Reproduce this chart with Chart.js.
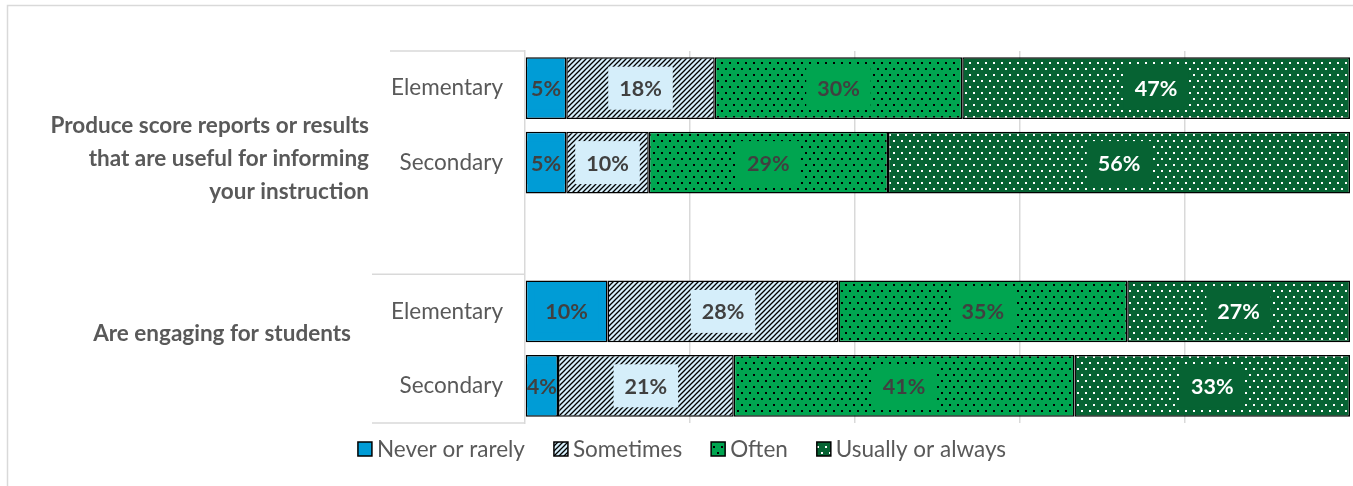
<!DOCTYPE html>
<html>
<head>
<meta charset="utf-8">
<script src="https://cdn.jsdelivr.net/npm/chart.js@4.4.1/dist/chart.umd.min.js"></script>
<style>
body { margin: 0; background: #fff; }
#wrap { width: 1353px; height: 486px; }
</style>
</head>
<body>
<div id="wrap"><canvas id="myChart" width="1353" height="486"></canvas></div>
<script>
// sub-category labels (one empty slot separates the two groups)
const levels = ['Elementary', 'Secondary', '', 'Elementary', 'Secondary'];
const groups = [
    ['Produce score reports or results', 'that are useful for informing', 'your instruction'],
    ['Are engaging for students']
];
const seriesNames = ['Never or rarely', 'Sometimes', 'Often', 'Usually or always'];
const neverRarely = [5, 5, null, 10, 4];
const sometimes = [18, 10, null, 28, 21.3];
const often = [30, 29, null, 35, 41.3];
const usually = [47, 56, null, 27, 33.4];

const FONT = 'Lato';
const GRAY = '#595959';

function hatch(bg) {
    const s = 5;
    const c = document.createElement('canvas');
    c.width = s; c.height = s;
    const g = c.getContext('2d');
    g.fillStyle = bg;
    g.fillRect(0, 0, s, s);
    g.strokeStyle = '#000';
    g.lineWidth = 1.3;
    g.beginPath();
    g.moveTo(0, s); g.lineTo(s, 0);
    g.moveTo(-1, 1); g.lineTo(1, -1);
    g.moveTo(s - 1, s + 1); g.lineTo(s + 1, s - 1);
    g.stroke();
    return g.createPattern(c, 'repeat');
}

function dots(bg, fg) {
    const c = document.createElement('canvas');
    c.width = 8; c.height = 12;
    const g = c.getContext('2d');
    g.fillStyle = bg;
    g.fillRect(0, 0, 8, 12);
    g.fillStyle = fg;
    g.fillRect(1, 2, 2, 2);
    g.fillRect(5, 8, 2, 2);
    return g.createPattern(c, 'repeat');
}

const solid = ['#009CD6', '#D5EEFA', '#00A550', '#066333'];
const fills = [solid[0], hatch(solid[1]), dots(solid[2], '#000'), dots(solid[3], '#fff')];
const labelColors = ['#404040', '#404040', '#404040', '#ffffff'];
const values = [neverRarely, sometimes, often, usually];

const datasets = values.map((v, i) => ({
    label: seriesNames[i],
    data: v,
    backgroundColor: fills[i],
    borderColor: '#000',
    borderWidth: 1.5,
    borderSkipped: false,
    labelBg: solid[i],
    labelColor: labelColors[i]
}));

const barLabels = {
    id: 'barLabels',
    afterDatasetsDraw(chart) {
        const ctx = chart.ctx;
        ctx.save();
        ctx.font = 'bold 21.5px ' + FONT;
        ctx.textAlign = 'center';
        ctx.textBaseline = 'middle';
        chart.data.datasets.forEach((ds, i) => {
            const meta = chart.getDatasetMeta(i);
            meta.data.forEach((bar, j) => {
                const v = ds.data[j];
                if (v == null) return;
                const p = bar.getProps(['x', 'y', 'base', 'height'], true);
                const left = Math.min(p.x, p.base), right = Math.max(p.x, p.base);
                const top = p.y - p.height / 2;
                const txt = Math.round(v) + '%';
                const w = ctx.measureText(txt).width + 22;
                const h = 43;
                const cx = (left + right) / 2;
                ctx.save();
                ctx.beginPath();
                ctx.rect(left + 1.5, top + 1.5, right - left - 3, p.height - 3);
                ctx.clip();
                ctx.fillStyle = ds.labelBg;
                ctx.fillRect(cx - w / 2, p.y - h / 2, w, h);
                ctx.fillStyle = ds.labelColor;
                ctx.fillText(txt, cx, p.y + 1);
                ctx.restore();
            });
        });
        ctx.restore();
    }
};

const axisDecor = {
    id: 'axisDecor',
    afterDraw(chart) {
        const ctx = chart.ctx;
        const area = chart.chartArea;
        const y = chart.scales.y;
        ctx.save();
        // outer chart frame
        ctx.strokeStyle = '#D9D9D9';
        ctx.lineWidth = 1.5;
        ctx.beginPath();
        ctx.moveTo(7.5, chart.height);
        ctx.lineTo(7.5, 5.5);
        ctx.lineTo(chart.width, 5.5);
        ctx.stroke();
        // multi-level category separators
        const mid = (y.getPixelForValue(2) + y.getPixelForValue(3)) / 2;
        ctx.beginPath();
        ctx.moveTo(390, area.top); ctx.lineTo(area.left, area.top);
        ctx.moveTo(372, mid); ctx.lineTo(area.left, mid);
        ctx.moveTo(372, area.bottom); ctx.lineTo(area.left, area.bottom);
        ctx.stroke();
        // group labels
        ctx.fillStyle = GRAY;
        ctx.font = 'bold 22.5px ' + FONT;
        ctx.textAlign = 'right';
        ctx.textBaseline = 'middle';
        const anchors = [{ at: 0.95, right: 369 }, { at: 3.3, right: 351 }];
        groups.forEach((lines, g) => {
            const cy = y.getPixelForValue(anchors[g].at);
            const lh = 33;
            lines.forEach((t, k) => {
                ctx.fillText(t, anchors[g].right, cy + (k - (lines.length - 1) / 2) * lh);
            });
        });
        // legend
        ctx.font = '22.5px ' + FONT;
        ctx.textAlign = 'left';
        const box = 14, gapText = 5, gapItem = 29;
        const widths = seriesNames.map(t => box + gapText + ctx.measureText(t).width);
        const total = widths.reduce((a, b) => a + b, 0) + gapItem * (widths.length - 1);
        let lx = 682 - total / 2;
        const ly = 449;
        chart.data.datasets.forEach((ds, i) => {
            ctx.fillStyle = ds.backgroundColor;
            ctx.fillRect(lx, ly - box / 2, box, box);
            ctx.strokeStyle = '#000';
            ctx.lineWidth = 1.5;
            ctx.strokeRect(lx, ly - box / 2, box, box);
            ctx.fillStyle = GRAY;
            ctx.fillText(seriesNames[i], lx + box + gapText, ly + 1);
            lx += widths[i] + gapItem;
        });
        ctx.restore();
    }
};

new Chart(document.getElementById('myChart').getContext('2d'), {
    type: 'bar',
    data: { labels: levels, datasets: datasets },
    options: {
        indexAxis: 'y',
        responsive: false,
        animation: false,
        layout: { padding: { top: 51, right: 3, bottom: 63, left: 0 } },
        datasets: { bar: { categoryPercentage: 1, barPercentage: 0.83 } },
        scales: {
            x: {
                stacked: true,
                min: 0,
                max: 100,
                ticks: { display: false, stepSize: 20 },
                grid: {
                    drawTicks: false,
                    lineWidth: 1.5,
                    color: c => (c.tick && (c.tick.value === 0 || c.tick.value === 100)) ? 'rgba(0,0,0,0)' : '#D9D9D9'
                },
                border: { display: false }
            },
            y: {
                stacked: true,
                afterFit(scale) { scale.width = 525; },
                grid: { display: false },
                border: { display: true, color: '#D9D9D9', width: 1.5 },
                ticks: { color: GRAY, font: { family: FONT, size: 22.5 }, padding: 14 }
            }
        },
        plugins: {
            legend: { display: false },
            tooltip: { enabled: false }
        }
    },
    plugins: [barLabels, axisDecor]
});
</script>
</body>
</html>
